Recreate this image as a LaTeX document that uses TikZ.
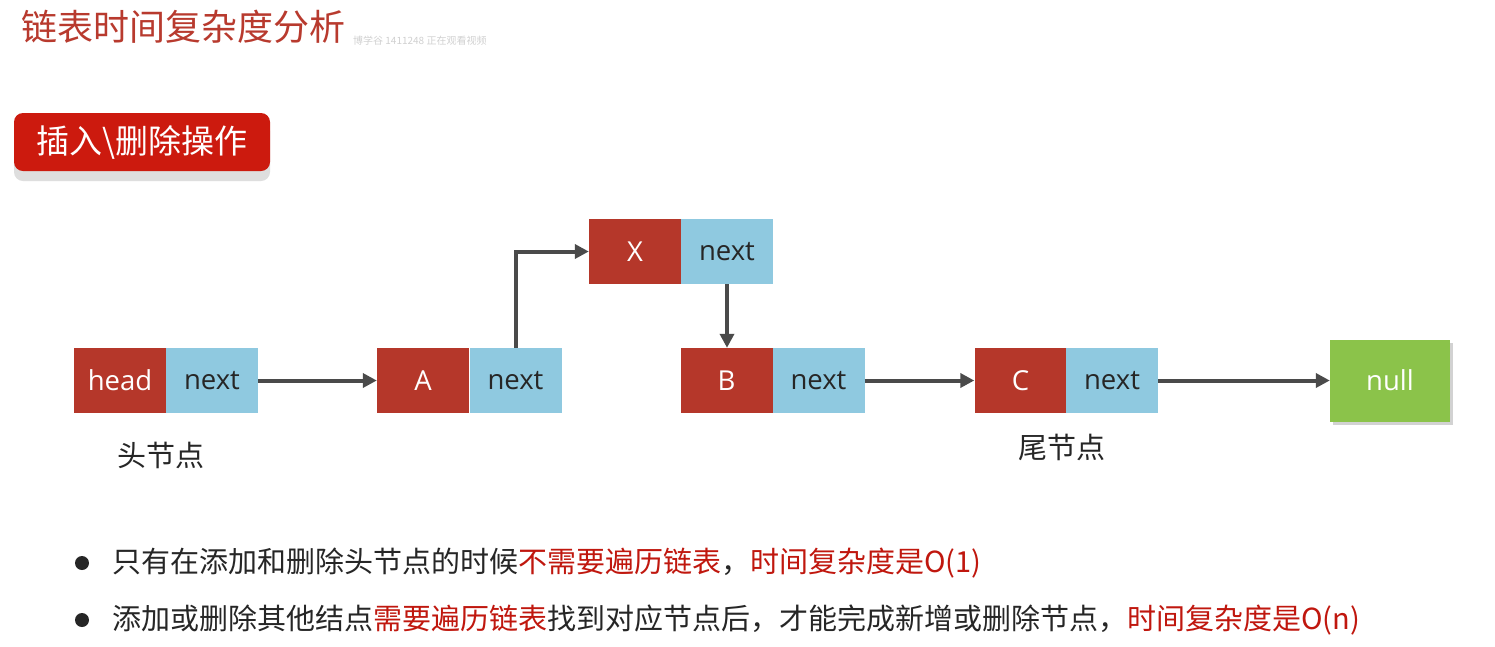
\documentclass[tikz,border=0pt]{standalone}
\usepackage{fontspec}
\setmainfont{Open Sans}
\newfontfamily\cjk{Noto Sans CJK SC}
\usetikzlibrary{shadows,arrows.meta}
\definecolor{nred}{HTML}{B5372A}
\definecolor{nblue}{HTML}{8FC9E0}
\definecolor{ngreen}{HTML}{8BC34A}
\definecolor{titlered}{HTML}{B83A2E}
\definecolor{btnred}{HTML}{CC1A0E}
\definecolor{arrowgray}{HTML}{4A4A4A}
\definecolor{txtred}{HTML}{C0170E}
\definecolor{txtdark}{HTML}{262626}
\tikzset{
  valbox/.style={fill=nred, text=white, minimum width=92pt, minimum height=65pt, inner sep=0pt, font=\fontsize{27.5}{31}\selectfont},
  nextbox/.style={fill=nblue, text=txtdark, minimum width=92pt, minimum height=65pt, inner sep=0pt, font=\fontsize{27.5}{31}\selectfont},
  nullbox/.style={fill=ngreen, text=white, minimum width=120pt, minimum height=82pt, inner sep=0pt, font=\fontsize{27.5}{31}\selectfont, drop shadow={shadow xshift=3pt, shadow yshift=-3pt, opacity=0.35}},
  link/.style={draw=arrowgray, line width=4pt, -{Triangle[length=14pt,width=14pt]}},
  caption/.style={font=\cjk\fontsize{29}{33}\selectfont, text=txtdark},
  bullettext/.style={font=\cjk\fontsize{29}{34}\selectfont, text=txtdark, anchor=west, inner sep=0pt},
}
\begin{document}
\begin{tikzpicture}[x=1pt,y=-1pt]
\useasboundingbox[fill=white] (0,0) rectangle (1495,646);
% title
\node[anchor=west, inner sep=0pt, text=titlered, font=\cjk\fontsize{36}{40}\selectfont] (title) at (21,27) {链表时间复杂度分析};
\node[anchor=west, inner sep=0pt, text=black!18, font=\cjk\fontsize{10}{12}\selectfont] (wm) at (353,41) {博学谷\ 1411248\ 正在观看视频};
% button
\fill[black!13, rounded corners=9pt] (14,122) rectangle (270,181);
\node[fill=btnred, rounded corners=9pt, minimum width=256pt, minimum height=58pt, inner sep=0pt, text=white, font=\cjk\fontsize{33}{38}\selectfont] (btn) at (142,142) {插入\textbackslash 删除操作};
% nodes
\node[valbox] (headv) at (120,380.5) {\raisebox{-2pt}{head}};
\node[nextbox] (headn) at (212,380.5) {\raisebox{-2pt}{next}};
\node[valbox] (av) at (423,380.5) {\raisebox{-2pt}{A}};
\node[nextbox] (an) at (515.5,380.5) {\raisebox{-2pt}{next}};
\node[valbox] (xv) at (635,251.5) {\raisebox{-2pt}{X}};
\node[nextbox] (xn) at (727,251.5) {\raisebox{-2pt}{next}};
\node[valbox] (bv) at (726.5,380.5) {\raisebox{-2pt}{B}};
\node[nextbox] (bn) at (818.5,380.5) {\raisebox{-2pt}{next}};
\node[valbox] (cv) at (1020.5,380.5) {\raisebox{-2pt}{C}};
\node[nextbox] (cn) at (1112,380.5) {\raisebox{-2pt}{next}};
\node[nullbox] (null) at (1390,380.5) {null};
% captions
\node[caption] (headcap) at (161,455) {头节点};
\node[caption] (tailcap) at (1062,447) {尾节点};
% links
\draw[link] (headn.east) -- (av.west);
\draw[link] (an.north) |- (xv.west);
\draw[link] (xn.south) -- (xn.south |- bv.north);
\draw[link] (bn.east) -- (cv.west);
\draw[link] (cn.east) -- (null.west);
% bullets
\fill[txtdark] (82,563) circle (7pt);
\fill[txtdark] (82,620) circle (7pt);
\node[bullettext] (b1) at (112,563) {只有在添加和删除头节点的时候\textcolor{txtred}{不需要遍历链表}，\textcolor{txtred}{时间复杂度是O(1)}};
\node[bullettext] (b2) at (112,620) {添加或删除其他结点\textcolor{txtred}{需要遍历链表}找到对应节点后，才能完成新增或删除节点，\textcolor{txtred}{时间复杂度是O(n)}};
\end{tikzpicture}
\end{document}
